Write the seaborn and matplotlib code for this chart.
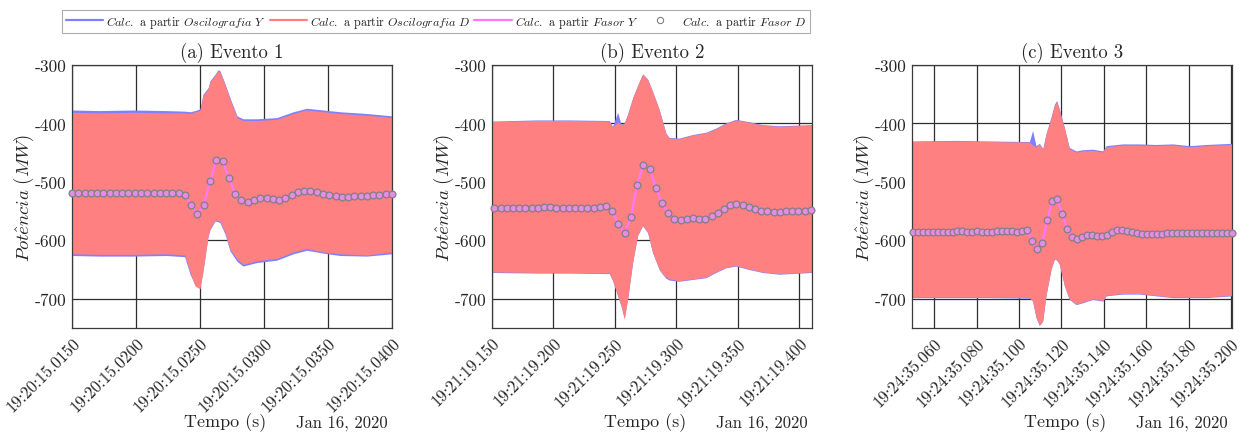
import numpy as np
import pandas as pd
import matplotlib
matplotlib.use("Agg")
import matplotlib.pyplot as plt
import matplotlib.transforms as mtransforms
import seaborn as sns
from matplotlib.lines import Line2D

# ---------------------------------------------------------------- data
titles = ["(a) Evento 1", "(b) Evento 2", "(c) Evento 3"]
dates = ["Jan 16, 2020"] * 3

# x tick positions (seconds within the minute) and their labels
ev1_ticks = [0.015, 0.020, 0.025, 0.030, 0.035, 0.040]
ev1_ticklabels = ["19:20:15.0150", "19:20:15.0200", "19:20:15.0250",
                  "19:20:15.0300", "19:20:15.0350", "19:20:15.0400"]
ev2_ticks = [0.15, 0.20, 0.25, 0.30, 0.35, 0.40]
ev2_ticklabels = ["19:21:19.150", "19:21:19.200", "19:21:19.250",
                  "19:21:19.300", "19:21:19.350", "19:21:19.400"]
ev3_ticks = [0.06, 0.08, 0.10, 0.12, 0.14, 0.16, 0.18, 0.20]
ev3_ticklabels = ["19:24:35.060", "19:24:35.080", "19:24:35.100", "19:24:35.120",
                  "19:24:35.140", "19:24:35.160", "19:24:35.180", "19:24:35.200"]
xlims = [(0.015, 0.040), (0.150, 0.4103), (0.0495, 0.2005)]

y_ticks = [-700, -600, -500, -400, -300]
y_ticklabels = ["-700", "-600", "-500", "-400", "-300"]

# Oscillography envelopes (MW): time, upper/lower for star (Y) and delta (D)
ev1_env_t = [0.01500, 0.01714, 0.01975, 0.02237, 0.02380, 0.02422, 0.02461, 0.02500,
             0.02523, 0.02563, 0.02578, 0.02617, 0.02641, 0.02656, 0.02695, 0.02734,
             0.02789, 0.02836, 0.02945, 0.03099, 0.03229, 0.03334, 0.03464, 0.03595,
             0.03804, 0.04000]
ev1_upper_D = [-381, -382, -381, -382, -382, -383, -380, -378, -352, -341, -329, -318,
               -310, -312, -334, -358, -390, -395, -395, -393, -383, -377, -380, -383,
               -386, -390]
ev1_lower_D = [-623, -624, -624, -623, -625, -654, -678, -683, -654, -592, -580, -565,
               -566, -568, -586, -615, -632, -641, -635, -631, -620, -614, -620, -623,
               -625, -620]
ev1_upper_Y = [-377, -378, -377, -378, -379, -380, -378, -375, -350, -339, -327, -316,
               -308, -310, -332, -356, -387, -392, -392, -390, -380, -374, -377, -380,
               -383, -387]
ev1_lower_Y = [-626, -627, -627, -626, -628, -658, -676, -680, -652, -594, -582, -567,
               -568, -570, -589, -618, -636, -644, -638, -634, -623, -617, -622, -626,
               -627, -623]

ev2_env_t = [0.1500, 0.1858, 0.2129, 0.2454, 0.2481, 0.2522, 0.2549, 0.2576, 0.2603,
             0.2644, 0.2684, 0.2725, 0.2766, 0.2806, 0.2860, 0.2887, 0.2915, 0.2942,
             0.3023, 0.3131, 0.3240, 0.3321, 0.3402, 0.3484, 0.3592, 0.3701, 0.3836,
             0.4103]
ev2_upper_D = [-397, -395, -395, -396, -406, -398, -402, -400, -385, -357, -336, -316,
               -325, -346, -377, -397, -418, -425, -426, -420, -416, -409, -400, -394,
               -398, -403, -405, -403]
ev2_lower_D = [-654, -655, -655, -656, -668, -694, -711, -735, -700, -637, -591, -574,
               -586, -620, -649, -657, -663, -666, -669, -666, -663, -654, -646, -643,
               -649, -654, -657, -654]
ev2_upper_Y = [-396, -394, -394, -395, -405, -381, -401, -399, -384, -356, -335, -315,
               -324, -345, -376, -396, -417, -424, -425, -419, -415, -408, -399, -393,
               -397, -402, -404, -402]
ev2_lower_Y = [-655, -656, -656, -657, -669, -695, -712, -733, -701, -638, -592, -575,
               -587, -621, -650, -658, -665, -668, -670, -667, -664, -655, -647, -644,
               -650, -655, -658, -655]

ev3_env_t = [0.0495, 0.0703, 0.0860, 0.1049, 0.1064, 0.1080, 0.1096, 0.1112, 0.1127,
             0.1151, 0.1167, 0.1178, 0.1190, 0.1214, 0.1237, 0.1269, 0.1300, 0.1348,
             0.1395, 0.1411, 0.1489, 0.1568, 0.1646, 0.1725, 0.1804, 0.1882, 0.2005]
ev3_upper_D = [-431, -430, -431, -432, -437, -440, -435, -445, -420, -391, -369, -363,
               -377, -409, -443, -449, -447, -446, -449, -440, -437, -437, -438, -437,
               -440, -438, -436]
ev3_lower_D = [-697, -697, -697, -698, -703, -731, -745, -737, -694, -649, -631, -633,
               -640, -677, -700, -709, -706, -700, -703, -694, -691, -691, -694, -697,
               -697, -697, -694]
ev3_upper_Y = [-430, -429, -430, -431, -412, -438, -434, -443, -418, -389, -367, -361,
               -375, -407, -441, -447, -445, -444, -447, -438, -435, -435, -436, -435,
               -438, -436, -434]
ev3_lower_Y = [-698, -698, -698, -699, -704, -732, -746, -738, -695, -650, -632, -634,
               -641, -678, -701, -710, -707, -701, -704, -695, -692, -692, -695, -698,
               -698, -698, -695]

# Phasor-based power (MW), one value per phasor sample
ev1_phasor = [-519, -519, -519.5, -519, -519, -519, -519.5, -519, -519, -519,
              -519.5, -519, -519, -519, -519, -519.5, -519, -519, -522.9, -540,
              -555.4, -540, -498.9, -463.4, -465.1, -493.1, -520, -531.4, -534.3, -530.3,
              -527.4, -528, -529.7, -530.9, -527.4, -522.9, -517.7, -516, -516, -517.1,
              -520, -521.7, -524, -525.1, -525.1, -524.6, -524, -523.4, -522.3, -521.7,
              -521.1, -521.1]
ev2_phasor = [-544, -544.5, -545, -545.5, -545, -544.5, -544, -544, -543.5, -543.5,
              -544, -544.5, -545, -545.5, -545.5, -545, -544, -543, -541.7, -550.3,
              -572.6, -587.4, -560, -505.7, -470.3, -477.1, -509.7, -536, -553.1, -562.9,
              -564.6, -562.9, -561.1, -562.9, -562.9, -558.9, -552.6, -545.7, -540, -538.3,
              -540, -542.9, -546.9, -549.1, -550.3, -551.4, -550.9, -550.3, -549.7, -549.7,
              -549.1, -548.6]
ev3_phasor = [-586, -586, -586.5, -586, -585.5, -585, -585, -585.5, -585, -584.5,
              -584.5, -585, -585, -584.5, -585, -585, -585, -584.5, -584.5, -584.5,
              -584.5, -585, -584, -583, -601, -615.4, -604, -566, -532.6, -529.7,
              -554.3, -580, -595, -597, -594.3, -591.4, -591.4, -592, -592.6, -590.3,
              -585.7, -581.7, -581.7, -584, -585.7, -586.9, -588.6, -589.7, -589.7, -589,
              -588.6, -588, -588, -588, -587.4, -587.4, -587.4, -587.4, -587.4, -586.9,
              -586.9, -586.9, -586.9, -587.4, -586.9]
phasor_spans = [(0.0150, 0.0400), (0.1519, 0.4094), (0.0498, 0.2003)]

legend_labels = [r"$Calc.$ a partir $Oscilografia\ Y$",
                 r"$Calc.$ a partir $Oscilografia\ D$",
                 r"$Calc.$ a partir $Fasor\ Y$",
                 r"$Calc.$ a partir $Fasor\ D$"]

# ---------------------------------------------------------------- style
sns.set_theme(style="white")
plt.rcParams.update({
    "font.family": "serif",
    "font.serif": ["cmr10"],
    "mathtext.fontset": "cm",
    "axes.unicode_minus": False,
    "axes.formatter.use_mathtext": True,
})

C_Y = "#8080FF"
C_D = "#FF8080"
C_FY = "#FF77FF"
C_FD_FACE = "#E48CE6"
C_FD_EDGE = "#808080"
GRID = "#2e2e2e"

W, H = 1242, 435
fig = plt.figure(figsize=(W / 100, H / 100), dpi=100)

ax_lefts = [72, 492, 912]
ax_w, ax_top, ax_bot = 320, 66, 329

events = [
    (ev1_env_t, ev1_upper_Y, ev1_lower_Y, ev1_upper_D, ev1_lower_D, ev1_phasor,
     ev1_ticks, ev1_ticklabels),
    (ev2_env_t, ev2_upper_Y, ev2_lower_Y, ev2_upper_D, ev2_lower_D, ev2_phasor,
     ev2_ticks, ev2_ticklabels),
    (ev3_env_t, ev3_upper_Y, ev3_lower_Y, ev3_upper_D, ev3_lower_D, ev3_phasor,
     ev3_ticks, ev3_ticklabels),
]

label_shift = mtransforms.ScaledTranslation(5 / 72, 0, fig.dpi_scale_trans)

for i, (t, uy, ly, ud, ld, ph, xt, xtl) in enumerate(events):
    ax = fig.add_axes([ax_lefts[i] / W, (H - ax_bot) / H, ax_w / W, (ax_bot - ax_top) / H])

    # oscillography envelopes
    ax.fill_between(t, ly, uy, color=C_Y, lw=0, zorder=1)
    ax.fill_between(t, ld, ud, color=C_D, lw=0, zorder=2)

    # phasor estimates
    tp = np.linspace(phasor_spans[i][0], phasor_spans[i][1], len(ph))
    df = pd.DataFrame({"t": tp, "p": ph})
    sns.lineplot(data=df, x="t", y="p", ax=ax, color=C_FY, lw=1.6,
                 estimator=None, sort=False, legend=False, zorder=3)
    sns.scatterplot(data=df, x="t", y="p", ax=ax, s=24, marker="o",
                    facecolor=C_FD_FACE, edgecolor=C_FD_EDGE, linewidth=0.9,
                    legend=False, zorder=4, clip_on=False)

    ax.set_xlim(*xlims[i])
    ax.set_ylim(-750, -300)
    ax.set_xticks(xt)
    ax.set_xticklabels(xtl, rotation=45, ha="right", va="top",
                       rotation_mode="anchor", fontsize=12)
    for lab in ax.get_xticklabels():
        lab.set_transform(lab.get_transform() + label_shift)
    ax.set_yticks(y_ticks)
    ax.set_yticklabels(y_ticklabels, fontsize=12.5)
    ax.tick_params(length=0, pad=4)
    ax.tick_params(axis="x", pad=5)
    ax.set_xlabel("")
    ax.set_ylabel(r"$Pot\hat{e}ncia\ (MW)$", fontsize=13.5, labelpad=-1)
    ax.set_title(titles[i], fontsize=13.5, pad=6)

    ax.grid(True, color=GRID, lw=0.9)
    ax.set_axisbelow(True)
    for s in ax.spines.values():
        s.set_color("#3a3a3a")
        s.set_linewidth(0.9)

    ax.text(0.48, -0.357, "Tempo (s)", transform=ax.transAxes,
            ha="center", va="center", fontsize=13)
    ax.text(0.985, -0.357, dates[i], transform=ax.transAxes,
            ha="right", va="center", fontsize=12)

handles = [
    Line2D([], [], color=C_Y, lw=1.6),
    Line2D([], [], color=C_D, lw=1.6),
    Line2D([], [], color=C_FY, lw=1.6),
    Line2D([], [], ls="none", marker="o", markersize=4.5,
           markerfacecolor="none", markeredgecolor=C_FD_EDGE, markeredgewidth=0.8),
]
leg = fig.legend(handles, legend_labels, loc="upper left",
                 bbox_to_anchor=(62 / W, 1 - 11 / H), ncol=4, fontsize=8.7,
                 frameon=True, fancybox=False, edgecolor="#9a9a9a",
                 handlelength=3.1, handletextpad=0.25, columnspacing=0.3,
                 borderpad=0.3, borderaxespad=0)
leg.get_frame().set_linewidth(0.8)

fig.savefig("out.png", dpi=100)
